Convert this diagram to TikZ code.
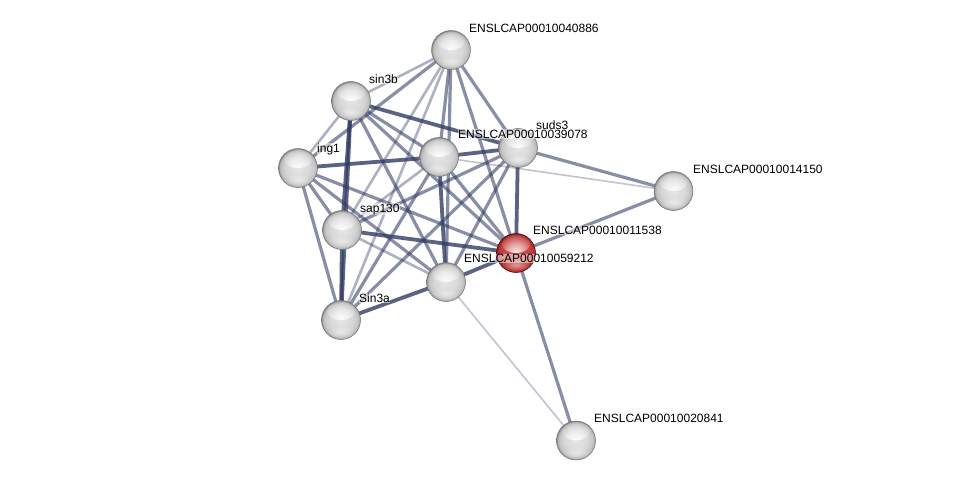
\documentclass[tikz,border=0pt]{standalone}
\usepackage{fontspec}
\setmainfont{Liberation Sans}
\usetikzlibrary{backgrounds,fadings}
\definecolor{edgec}{RGB}{50,60,100}
\tikzfading[name=softball, inner color=transparent!0, outer color=transparent!100]
\pgfdeclareradialshading{gball}{\pgfpoint{0bp}{0bp}}{color(0bp)=(white!90!black); color(14bp)=(white!85!black); color(21bp)=(white!78!black); color(24bp)=(white!68!black); color(25bp)=(white!52!black); color(50bp)=(white!52!black)}
\pgfdeclareradialshading{rball}{\pgfpoint{0bp}{0bp}}{color(0bp)=(rgb,255:red,210;green,95;blue,95); color(14bp)=(rgb,255:red,200;green,72;blue,72); color(21bp)=(rgb,255:red,188;green,58;blue,58); color(24bp)=(rgb,255:red,165;green,45;blue,45); color(25bp)=(rgb,255:red,125;green,28;blue,28); color(50bp)=(rgb,255:red,125;green,28;blue,28)}
\begin{document}
\begin{tikzpicture}[x=1pt,y=-1pt,
  prot/.style={circle, minimum size=39pt, inner sep=0pt, draw=white!45!black, line width=0.5pt, shading=gball,
    path picture={\fill[white, opacity=.9, path fading=softball] (0pt,9pt) ellipse (14pt and 9pt);
                  \fill[white, opacity=.45, path fading=softball] (0pt,-12pt) ellipse (14pt and 6pt);}},
  qprot/.style={prot, shading=rball, draw=red!35!black},
  lab/.style={anchor=base west, inner sep=0.5pt, fill=white, fill opacity=.5, text opacity=1, font=\fontsize{12}{14}\selectfont},
  dk/.style={draw=edgec, line width=3.8pt, draw opacity=.8},
  md/.style={draw=edgec, line width=3.2pt, draw opacity=.58},
  lt/.style={draw=edgec, line width=2.6pt, draw opacity=.4},
  vl/.style={draw=edgec, line width=1.6pt, draw opacity=.3}]
\useasboundingbox (0,0) rectangle (976,485);
% nodes
\node[prot] (A) at (451,50) {};
\node[prot] (B) at (351,101) {};
\node[prot] (I) at (298,168) {};
\node[prot] (C) at (439,157) {};
\node[prot] (S) at (518,148) {};
\node[prot] (F) at (673.5,191) {};
\node[prot] (P) at (342,230) {};
\node[qprot] (R) at (516,253) {};
\node[prot] (M) at (446,282) {};
\node[prot] (T) at (341,320) {};
\node[prot] (G) at (576,440.5) {};
% edges
\begin{scope}[on background layer]
\draw[lt] (A.center) -- (B.center);
\draw[md] (A.center) -- (I.center);
\draw[md] (A.center) -- (C.center);
\draw[md] (A.center) -- (S.center);
\draw[lt] (A.center) -- (P.center);
\draw[md] (A.center) -- (R.center);
\draw[md] (A.center) -- (M.center);
\draw[lt] (A.center) -- (T.center);
\draw[lt] (B.center) -- (I.center);
\draw[md] (B.center) -- (C.center);
\draw[dk] (B.center) -- (S.center);
\draw[dk] (B.center) -- (P.center);
\draw[dk] (B.center) -- (T.center);
\draw[md] (B.center) -- (R.center);
\draw[md] (B.center) -- (M.center);
\draw[dk] (I.center) -- (C.center);
\draw[md] (I.center) -- (P.center);
\draw[md] (I.center) -- (R.center);
\draw[md] (I.center) -- (M.center);
\draw[md] (I.center) -- (T.center);
\draw[dk] (C.center) -- (S.center);
\draw[lt] (C.center) -- (P.center);
\draw[md] (C.center) -- (R.center);
\draw[dk] (C.center) -- (M.center);
\draw[md] (C.center) -- (T.center);
\draw[vl] (C.center) -- (F.center);
\draw[md] (S.center) -- (P.center);
\draw[dk] (S.center) -- (R.center);
\draw[md] (S.center) -- (M.center);
\draw[md] (S.center) -- (T.center);
\draw[md] (S.center) -- (F.center);
\draw[dk] (P.center) -- (R.center);
\draw[lt] (P.center) -- (M.center);
\draw[dk] (P.center) -- (T.center);
\draw[dk] (R.center) -- (M.center);
\draw[md] (R.center) -- (F.center);
\draw[md] (R.center) -- (G.center);
\draw[dk] (M.center) -- (T.center);
\draw[vl] (M.center) -- (G.center);
\end{scope}
% labels
\node[lab] (lA) at (468.5,32) {ENSLCAP00010040886};
\node[lab] (lB) at (368.5,83) {sin3b};
\node[lab] (lI) at (316.5,152) {ing1};
\node[lab] (lS) at (535.5,129) {suds3};
\node[lab] (lC) at (457.5,138) {ENSLCAP00010039078};
\node[lab] (lF) at (692.5,173) {ENSLCAP00010014150};
\node[lab] (lP) at (359.5,212) {sap130};
\node[lab] (lR) at (532.5,234) {ENSLCAP00010011538};
\node[lab] (lM) at (463.5,262.5) {ENSLCAP00010059212};
\node[lab] (lT) at (358.5,302) {Sin3a};
\node[lab] (lG) at (593.5,422) {ENSLCAP00010020841};
\end{tikzpicture}
\end{document}
